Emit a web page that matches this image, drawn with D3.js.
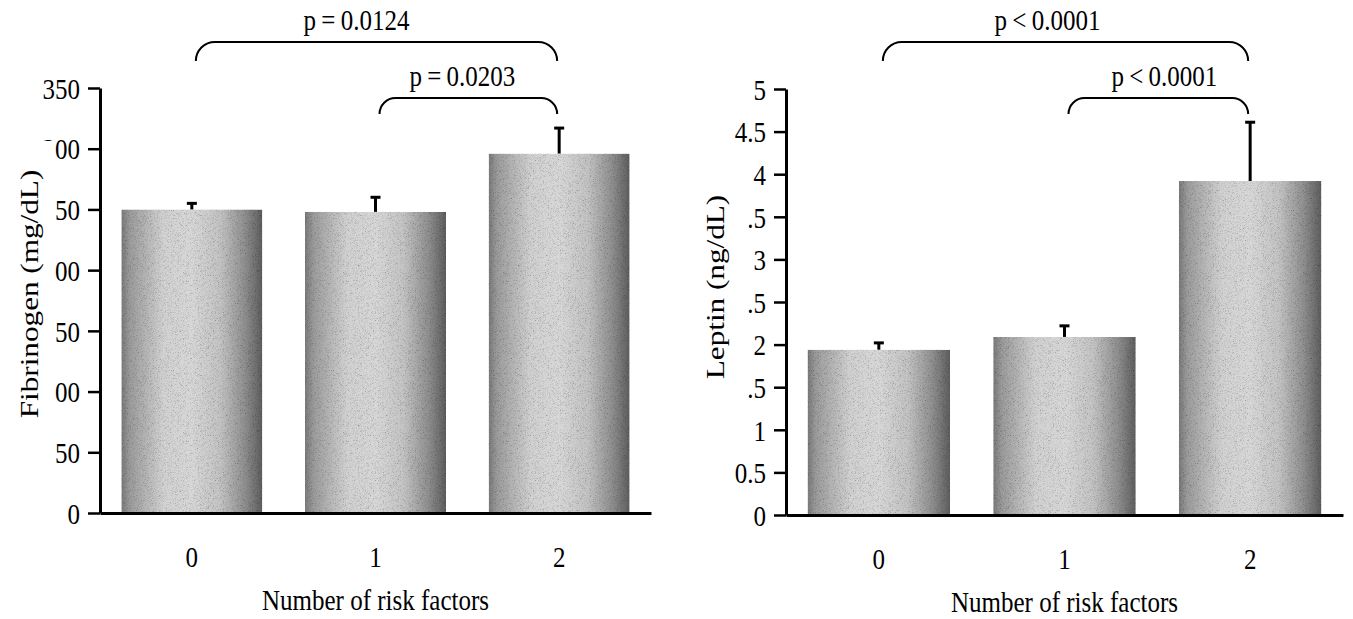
<!DOCTYPE html>
<html>
<head>
<meta charset="utf-8">
<script src="https://cdn.jsdelivr.net/npm/d3@7"></script>
<style>
  html, body { margin: 0; padding: 0; background: #fff; }
  svg { display: block; }
  text { font-family: "Liberation Serif", "Times New Roman", serif; fill: #000; }
</style>
</head>
<body>
<svg id="chart" width="1353" height="619"></svg>
<script>
// Risk-factor groups shared by both panels
const categories = ["0", "1", "2"];

// Fibrinogen (mg/dL): group means and standard errors
const fibrinogenMean = [250, 248, 296];
const fibrinogenSE = [5, 12, 21];
const fibrinogenTicks = [0, 50, 100, 150, 200, 250, 300, 350];

// Leptin (ng/dL): group means and standard errors
const leptinMean = [1.94, 2.09, 3.92];
const leptinSE = [0.08, 0.13, 0.69];
const leptinTicks = [0, 0.5, 1, 1.5, 2, 2.5, 3, 3.5, 4, 4.5, 5];

// Pairwise comparisons shown as brackets
const fibrinogenPairs = [
  { from: 0, to: 2, label: "p = 0.0124" },
  { from: 1, to: 2, label: "p = 0.0203" }
];
const leptinPairs = [
  { from: 0, to: 2, label: "p < 0.0001" },
  { from: 1, to: 2, label: "p < 0.0001" }
];

const svg = d3.select("#chart");
const STRETCH = 1.2; // glyphs are drawn slightly taller than wide

// Bar fill: horizontal shading plus a fine speckle
const defs = svg.append("defs");
const grad = defs.append("linearGradient").attr("id", "barShade")
  .attr("x1", "0%").attr("x2", "100%").attr("y1", "0%").attr("y2", "0%");
[[0, "#7a7a7a"], [0.06, "#9c9c9c"], [0.3, "#d2d2d2"], [0.5, "#d8d8d8"],
 [0.7, "#c4c4c4"], [0.88, "#8e8e8e"], [1, "#5e5e5e"]]
  .forEach(([o, c]) => grad.append("stop").attr("offset", o).attr("stop-color", c));

const grain = defs.append("filter").attr("id", "grain")
  .attr("x", "0").attr("y", "0").attr("width", "100%").attr("height", "100%");
grain.append("feTurbulence").attr("type", "fractalNoise")
  .attr("baseFrequency", "1.6").attr("numOctaves", 1).attr("seed", 7).attr("result", "n");
grain.append("feColorMatrix").attr("in", "n").attr("type", "matrix")
  .attr("values", "0.33 0.33 0.33 0 0  0.33 0.33 0.33 0 0  0.33 0.33 0.33 0 0  0 0 0 0 1")
  .attr("result", "g");
const ct = grain.append("feComponentTransfer").attr("in", "g").attr("result", "g2");
["feFuncR", "feFuncG", "feFuncB"].forEach(f =>
  ct.append(f).attr("type", "linear").attr("slope", 2.2).attr("intercept", -0.12));
grain.append("feBlend").attr("in", "SourceGraphic").attr("in2", "g2")
  .attr("mode", "multiply").attr("result", "b");
grain.append("feComposite").attr("in", "b").attr("in2", "SourceGraphic").attr("operator", "in");

function stretchedText(g, x, y, str, anchor) {
  return g.append("text")
    .attr("transform", `translate(${x},${y}) scale(1,${STRETCH})`)
    .attr("text-anchor", anchor || "middle")
    .attr("font-size", 25)
    .text(str);
}

function drawPanel(p) {
  const g = svg.append("g");

  const x = d3.scaleBand().domain(categories)
    .range([p.left, p.right]).paddingInner(0.232).paddingOuter(0.116);
  const y = d3.scaleLinear().domain(p.domain).range([p.bottom, p.top]);

  // Bars
  g.selectAll("rect.bar").data(p.mean).join("rect")
    .attr("class", "bar")
    .attr("x", (d, i) => x(categories[i]))
    .attr("y", d => y(d))
    .attr("width", x.bandwidth())
    .attr("height", d => y(0) - y(d))
    .attr("fill", "url(#barShade)")
    .attr("filter", "url(#grain)");

  // Upper error bars
  const eb = g.selectAll("g.err").data(p.mean).join("g").attr("class", "err");
  eb.append("line")
    .attr("x1", (d, i) => x(categories[i]) + x.bandwidth() / 2)
    .attr("x2", (d, i) => x(categories[i]) + x.bandwidth() / 2)
    .attr("y1", d => y(d))
    .attr("y2", (d, i) => y(d + p.se[i]))
    .attr("stroke", "#000").attr("stroke-width", 3);
  eb.append("line")
    .attr("x1", (d, i) => x(categories[i]) + x.bandwidth() / 2 - 5)
    .attr("x2", (d, i) => x(categories[i]) + x.bandwidth() / 2 + 5)
    .attr("y1", (d, i) => y(d + p.se[i]))
    .attr("y2", (d, i) => y(d + p.se[i]))
    .attr("stroke", "#000").attr("stroke-width", 3);

  // Y axis
  const yAxis = g.append("g").attr("transform", `translate(${p.left},0)`)
    .call(d3.axisLeft(y).tickValues(p.ticks).tickSize(12).tickSizeOuter(0)
      .tickPadding(8).tickFormat(d => String(d)));
  yAxis.select(".domain").attr("stroke-width", 3);
  yAxis.selectAll(".tick line").attr("stroke-width", 2.5);
  yAxis.selectAll(".tick text")
    .attr("font-size", 25).attr("font-family", null).attr("fill", "#000")
    .attr("dy", "0.34em")
    .attr("transform", `scale(1,${STRETCH})`);

  // X axis
  const xAxis = g.append("g").attr("transform", `translate(0,${p.bottom})`)
    .call(d3.axisBottom(x).tickSize(0).tickSizeOuter(0).tickPadding(0));
  xAxis.select(".domain").attr("stroke-width", 2.8);
  xAxis.selectAll(".tick text").remove();
  categories.forEach(c => stretchedText(g, x(c) + x.bandwidth() / 2, p.bottom + 54, c));

  // Axis titles; the y title sits on a white ground
  g.append("rect")
    .attr("x", p.left - 100).attr("y", p.maskTop)
    .attr("width", p.maskRight - (p.left - 100)).attr("height", p.maskBottom - p.maskTop)
    .attr("fill", "#fff");
  g.append("text")
    .attr("transform", `translate(${p.left - 62},${p.titleY}) scale(1,${STRETCH}) rotate(-90)`)
    .attr("text-anchor", "middle").attr("font-size", 26)
    .text(p.yTitle);
  stretchedText(g, (p.left + p.right) / 2, p.bottom + 97, "Number of risk factors");

  // Significance brackets
  p.pairs.forEach((b, k) => {
    const x1 = x(categories[b.from]) + x.bandwidth() / 2 + 4;
    const x2 = x(categories[b.to]) + x.bandwidth() / 2 - 2;
    const top = k === 0 ? 42 : 98;
    const drop = k === 0 ? 19 : 16;
    const r = drop;
    const path = `M${x1},${top + drop} A${r},${r} 0 0 1 ${x1 + r},${top} ` +
      `L${x2 - r},${top} A${r},${r} 0 0 1 ${x2},${top + drop}`;
    g.append("path").attr("d", path).attr("fill", "none")
      .attr("stroke", "#000").attr("stroke-width", 2);
    stretchedText(g, (x1 + x2) / 2 + p.labelShift[k], top - 12, b.label)
      .attr("word-spacing", -1);
  });
}

drawPanel({
  left: 100, right: 651, top: 88, bottom: 513,
  domain: [0, 350], ticks: fibrinogenTicks,
  mean: fibrinogenMean, se: fibrinogenSE, pairs: fibrinogenPairs,
  yTitle: "Fibrinogen (mg/dL)", titleY: 294, labelShift: [-20, -6],
  maskTop: 141, maskBottom: 470, maskRight: 55
});

drawPanel({
  left: 786, right: 1343, top: 89, bottom: 515,
  domain: [0, 5], ticks: leptinTicks,
  mean: leptinMean, se: leptinSE, pairs: leptinPairs,
  yTitle: "Leptin (ng/dL)", titleY: 287, labelShift: [-18, 6],
  maskTop: 200, maskBottom: 410, maskRight: 748
});
</script>
</body>
</html>
